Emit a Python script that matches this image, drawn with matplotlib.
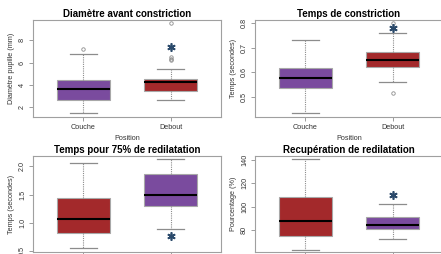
import matplotlib
matplotlib.use("Agg")
import matplotlib.pyplot as plt

# ======================================
# Data
# ======================================

positions = ["Couche", "Debout"]

titles = [
    "Diamètre avant constriction",
    "Temps de constriction",
    "Temps pour 75% de redilatation",
    "Recupération de redilatation",
]
ylabels = [
    "Diamètre pupille (mm)",
    "Temps (secondes)",
    "Temps (secondes)",
    "Pourcentage (%)",
]

# whislo, q1, med, q3, whishi
diam_couche = [1.45, 2.65, 3.6, 4.4, 6.75]
diam_debout = [2.65, 3.5, 4.25, 4.55, 5.42]
diam_fliers = [[7.25], [6.2, 6.35, 6.5, 9.5]]

tc_couche = [0.434, 0.538, 0.576, 0.619, 0.732]
tc_debout = [0.563, 0.622, 0.652, 0.683, 0.759]
tc_fliers = [[], [0.516, 0.80]]

t75_couche = [0.558, 0.83, 1.065, 1.44, 2.064]
t75_debout = [0.90, 1.30, 1.50, 1.864, 2.124]
t75_fliers = [[], []]

rec_couche = [63.4, 75.1, 88.2, 108.5, 140.5]
rec_debout = [72.9, 80.9, 84.3, 91.1, 102.0]
rec_fliers = [[], []]

# significance stars (group index, y value)
stars = [(2, 7.4), (2, 0.78), (2, 0.77), (2, 110)]

yticks = [[2, 4, 6, 8], [0.5, 0.6, 0.7, 0.8], [0.5, 1.0, 1.5, 2.0], [80, 100, 120, 140]]
ylims = [(1.13, 9.81), (0.4186, 0.8134), (0.49, 2.18), (61.4, 143.4)]

PURPLE = "#7A4B9E"
RED = "#A3292B"
GRAY = "#8c8c8c"

panels = [
    (diam_couche, diam_debout, diam_fliers, [PURPLE, RED]),
    (tc_couche, tc_debout, tc_fliers, [PURPLE, RED]),
    (t75_couche, t75_debout, t75_fliers, [RED, PURPLE]),
    (rec_couche, rec_debout, rec_fliers, [RED, PURPLE]),
]

# ======================================
# Layout (pixel boxes: left, right, top, bottom)
# ======================================

W, H = 441, 254
boxes = [(33, 221, 20, 117), (255, 443, 20, 117),
         (33, 221, 156, 252), (255, 443, 156, 252)]

plt.rcParams["font.family"] = ["Liberation Sans", "DejaVu Sans"]

fig = plt.figure(figsize=(W / 100, H / 100), dpi=100)

for i, (a, b, fl, cols) in enumerate(panels):
    l, r, t, bt = boxes[i]
    ax = fig.add_axes([l / W, 1 - bt / H, (r - l) / W, (bt - t) / H])

    stats = []
    for vals, f, name in zip([a, b], fl, positions):
        stats.append(dict(whislo=vals[0], q1=vals[1], med=vals[2],
                          q3=vals[3], whishi=vals[4], fliers=f, label=name))

    bp = ax.bxp(
        stats, positions=[1, 2], widths=0.6, patch_artist=True,
        boxprops=dict(edgecolor="#a8a8a8", linewidth=0.8),
        whiskerprops=dict(color=GRAY, linestyle=(0, (1, 1)), linewidth=0.8),
        capprops=dict(color=GRAY, linewidth=0.9),
        medianprops=dict(color="black", linewidth=1.5),
        flierprops=dict(marker="o", markerfacecolor="none",
                        markeredgecolor=GRAY, markersize=2.5,
                        markeredgewidth=0.6),
        capwidths=0.3,
    )
    for patch, c in zip(bp["boxes"], cols):
        patch.set_facecolor(c)

    gx, gy = stars[i]
    ax.plot([gx], [gy], linestyle="none", marker=(6, 2, 0),
            markersize=6, markeredgewidth=1.2, color="#2B4A6B")

    ax.set_xlim(0.42, 2.58)
    ax.set_ylim(*ylims[i])
    ax.set_yticks(yticks[i])
    ax.set_yticklabels([f"{v:g}" if i != 2 else f"{v:.1f}" for v in yticks[i]],
                       rotation=90, va="center", fontsize=5.2)
    ax.tick_params(axis="both", length=3, width=0.6, color=GRAY,
                   labelsize=5.2, pad=2, labelcolor="#333333")
    ax.set_xticks([1, 2])
    if i < 2:
        ax.set_xticklabels(positions, fontsize=5.2)
        ax.set_xlabel("Position", fontsize=5.2, labelpad=3, color="#333333")
    else:
        # the lower row is cut by the picture edge below the axis
        ax.set_xticklabels([])

    for s in ax.spines.values():
        s.set_color("#a0a0a0")
        s.set_linewidth(0.8)

    ax.set_title(titles[i], fontsize=7, fontweight="bold", pad=2)
    ax.set_ylabel(ylabels[i], fontsize=5.2, labelpad=3, color="#333333")

fig.savefig("out.png", dpi=100)
